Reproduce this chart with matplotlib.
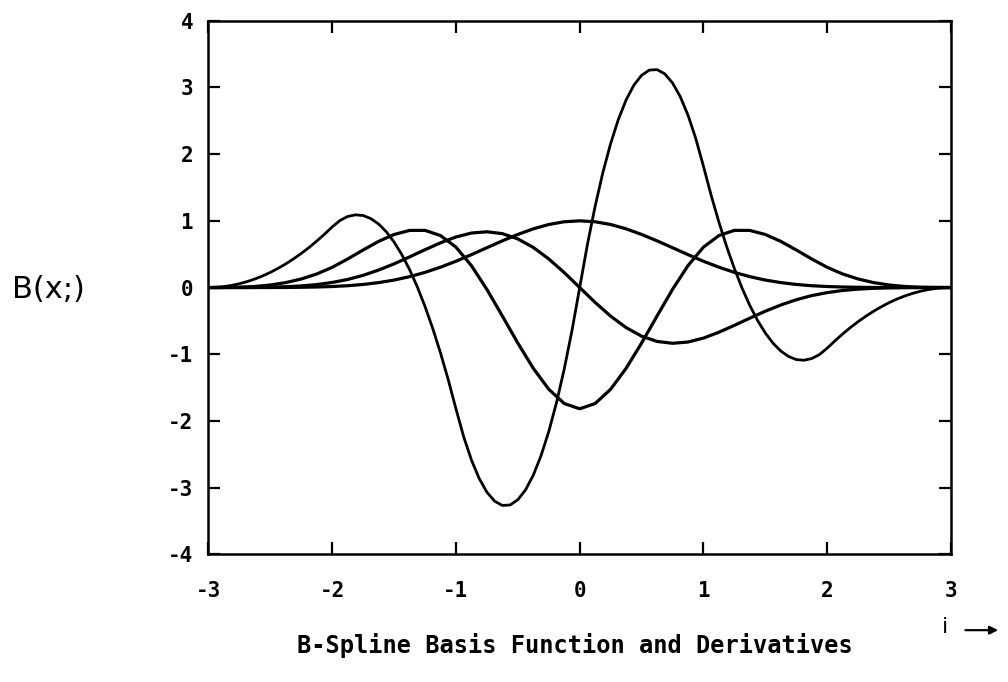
import matplotlib
matplotlib.use('Agg')
from matplotlib import pyplot as plt

# values, x step 0.125
x = [-3.0, -2.875, -2.75, -2.625, -2.5, -2.375, -2.25, -2.125, -2.0,
     -1.875, -1.75, -1.625, -1.5, -1.375, -1.25, -1.125, -1.0,
     -0.875, -0.75, -0.625, -0.5, -0.375, -0.25, -0.125, 0.0,
     0.125, 0.25, 0.375, 0.5, 0.625, 0.75, 0.875, 1.0,
     1.125, 1.25, 1.375, 1.5, 1.625, 1.75, 1.875, 2.0,
     2.125, 2.25, 2.375, 2.5, 2.625, 2.75, 2.875, 3.0]

basis = [0.0, 0.0, 0.0, 0.0, 0.0, 0.001, 0.004, 0.008, 0.015,
         0.027, 0.046, 0.074, 0.112, 0.163, 0.227, 0.305, 0.394,
         0.493, 0.597, 0.700, 0.796, 0.880, 0.945, 0.986, 1.000,
         0.986, 0.945, 0.880, 0.796, 0.700, 0.597, 0.493, 0.394,
         0.305, 0.227, 0.163, 0.112, 0.074, 0.046, 0.027, 0.015,
         0.008, 0.004, 0.001, 0.0, 0.0, 0.0, 0.0, 0.0]

deriv1 = [0.0, 0.0, 0.0, 0.001, 0.005, 0.012, 0.024, 0.044, 0.076,
          0.121, 0.183, 0.262, 0.355, 0.459, 0.567, 0.670, 0.758,
          0.817, 0.836, 0.808, 0.729, 0.601, 0.429, 0.224, 0.0,
          -0.224, -0.429, -0.601, -0.729, -0.808, -0.836, -0.817, -0.758,
          -0.670, -0.567, -0.459, -0.355, -0.262, -0.183, -0.121, -0.076,
          -0.044, -0.024, -0.012, -0.005, -0.001, 0.0, 0.0, 0.0]

deriv2 = [0.0, 0.001, 0.005, 0.016, 0.038, 0.074, 0.128, 0.203, 0.303,
          0.428, 0.563, 0.692, 0.795, 0.856, 0.857, 0.779, 0.606,
          0.328, -0.028, -0.427, -0.833, -1.211, -1.525, -1.739, -1.818,
          -1.739, -1.525, -1.211, -0.833, -0.427, -0.028, 0.328, 0.606,
          0.779, 0.857, 0.856, 0.795, 0.692, 0.563, 0.428, 0.303,
          0.203, 0.128, 0.074, 0.038, 0.016, 0.005, 0.001, 0.0]

# the steep third derivative is read at a finer step, 0.0625
x_fine = [-3.0, -2.9375, -2.875, -2.8125, -2.75, -2.6875, -2.625, -2.5625,
          -2.5, -2.4375, -2.375, -2.3125, -2.25, -2.1875, -2.125, -2.0625,
          -2.0, -1.9375, -1.875, -1.8125, -1.75, -1.6875, -1.625, -1.5625,
          -1.5, -1.4375, -1.375, -1.3125, -1.25, -1.1875, -1.125, -1.0625,
          -1.0, -0.9375, -0.875, -0.8125, -0.75, -0.6875, -0.625, -0.5625,
          -0.5, -0.4375, -0.375, -0.3125, -0.25, -0.1875, -0.125, -0.0625,
          0.0, 0.0625, 0.125, 0.1875, 0.25, 0.3125, 0.375, 0.4375,
          0.5, 0.5625, 0.625, 0.6875, 0.75, 0.8125, 0.875, 0.9375,
          1.0, 1.0625, 1.125, 1.1875, 1.25, 1.3125, 1.375, 1.4375,
          1.5, 1.5625, 1.625, 1.6875, 1.75, 1.8125, 1.875, 1.9375,
          2.0, 2.0625, 2.125, 2.1875, 2.25, 2.3125, 2.375, 2.4375,
          2.5, 2.5625, 2.625, 2.6875, 2.75, 2.8125, 2.875, 2.9375, 3.0]

deriv3 = [0.0, 0.004, 0.014, 0.032, 0.057, 0.089, 0.128, 0.174,
          0.227, 0.288, 0.355, 0.430, 0.511, 0.600, 0.696, 0.799,
          0.909, 1.005, 1.065, 1.090, 1.080, 1.033, 0.952, 0.835,
          0.682, 0.494, 0.270, 0.011, -0.284, -0.614, -0.980, -1.381,
          -1.818, -2.237, -2.585, -2.862, -3.068, -3.203, -3.267, -3.260,
          -3.182, -3.033, -2.813, -2.521, -2.159, -1.726, -1.222, -0.646,
          0.0, 0.646, 1.222, 1.726, 2.159, 2.521, 2.813, 3.033,
          3.182, 3.260, 3.267, 3.203, 3.068, 2.862, 2.585, 2.237,
          1.818, 1.381, 0.980, 0.614, 0.284, -0.011, -0.270, -0.494,
          -0.682, -0.835, -0.952, -1.033, -1.080, -1.090, -1.065, -1.005,
          -0.909, -0.799, -0.696, -0.600, -0.511, -0.430, -0.355, -0.288,
          -0.227, -0.174, -0.128, -0.089, -0.057, -0.032, -0.014, -0.004, 0.0]

xticks = [-3, -2, -1, 0, 1, 2, 3]
xticklabels = ['-3', '-2', '-1', '0', '1', '2', '3']
yticks = [-4, -3, -2, -1, 0, 1, 2, 3, 4]
yticklabels = ['-4', '-3', '-2', '-1', '0', '1', '2', '3', '4']

mono = ['DejaVu Sans Mono']

fig = plt.figure(figsize=(10.08, 6.82), dpi=100)
ax = fig.add_axes([0.2068, 0.1872, 0.7366, 0.7824])

ax.plot(x, basis, color='black', lw=2.3, solid_joinstyle='round')
ax.plot(x, deriv1, color='black', lw=2.3, solid_joinstyle='round')
ax.plot(x, deriv2, color='black', lw=2.3, solid_joinstyle='round')
ax.plot(x_fine, deriv3, color='black', lw=2.0, solid_joinstyle='round')

ax.set_xlim(-3, 3)
ax.set_ylim(-4, 4)
ax.set_xticks(xticks)
ax.set_xticklabels(xticklabels, family=mono, fontweight='bold', fontsize=15)
ax.set_yticks(yticks)
ax.set_yticklabels(yticklabels, family=mono, fontweight='bold', fontsize=15)
ax.tick_params(direction='in', top=True, right=True, length=8.5, width=1.6)
ax.tick_params(axis='x', pad=19)
ax.tick_params(axis='y', pad=11)
for s in ax.spines.values():
    s.set_linewidth(1.8)

fig.text(0.0116, 0.563, 'B(x;)', fontsize=22, ha='left', va='baseline')
fig.text(0.570, 0.054, 'B-Spline Basis Function and Derivatives',
         family=mono, fontweight='bold', fontsize=17, ha='center', va='center')
fig.text(0.9345, 0.072, 'i', fontsize=16, ha='left', va='baseline')
ax.annotate('', xy=(0.993, 0.076), xytext=(0.955, 0.076), xycoords='figure fraction',
            arrowprops=dict(arrowstyle='-|>', color='black', lw=1.6, mutation_scale=12))

fig.savefig('out.png', dpi=100)
